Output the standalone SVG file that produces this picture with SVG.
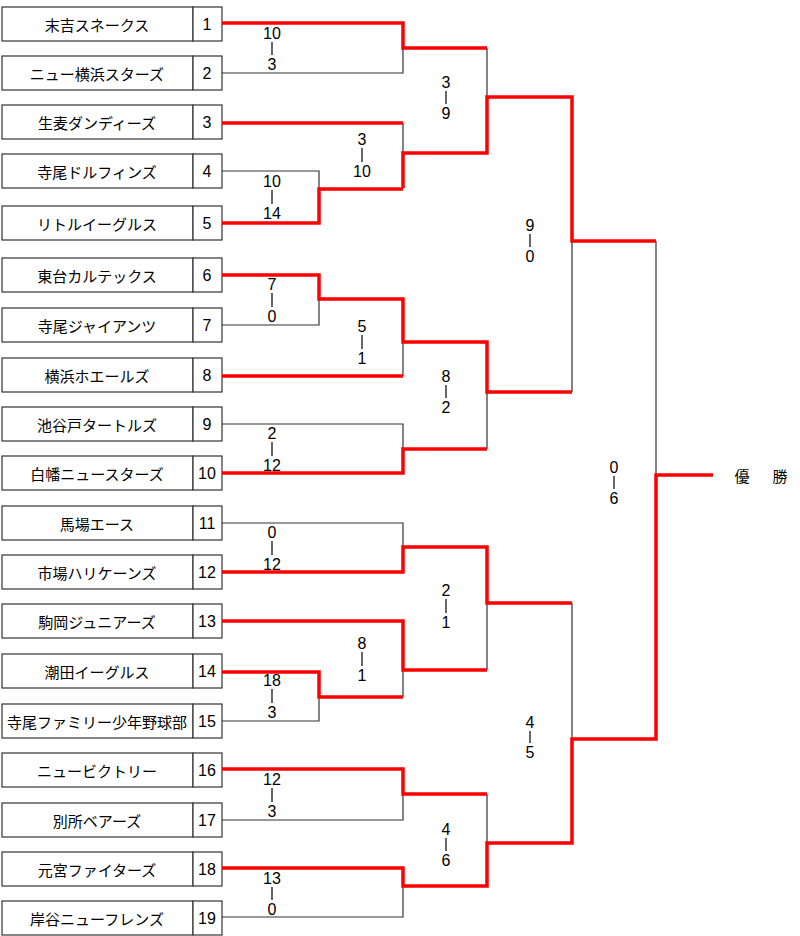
<svg xmlns="http://www.w3.org/2000/svg" width="800" height="936" viewBox="0 0 800 936">
<style>
.b{fill:#fff;stroke:#333;stroke-width:1.2}
.t{font-family:"Noto Sans CJK JP","Liberation Sans",sans-serif;font-size:15px;text-anchor:middle;dominant-baseline:central;fill:#000}
.n{font-family:"Liberation Sans",sans-serif;font-size:16px;text-anchor:middle;dominant-baseline:central;fill:#000}
.k{fill:none;stroke:#333;stroke-width:1.2}
.r{fill:none;stroke:#f00;stroke-width:3.5}
.d{stroke:#000;stroke-width:1.2}
</style>
<rect width="800" height="936" fill="#fff"/>
<g id="teams">
<g id="t1"><rect class="b" x="2" y="7" width="191" height="34"/><rect class="b" x="193" y="7" width="29" height="34"/><text class="t" x="97" y="24">末吉スネークス</text><text class="n" x="207" y="24">1</text></g>
<g id="t2"><rect class="b" x="2" y="56" width="191" height="34"/><rect class="b" x="193" y="56" width="29" height="34"/><text class="t" x="97" y="73">ニュー横浜スターズ</text><text class="n" x="207" y="73">2</text></g>
<g id="t3"><rect class="b" x="2" y="105" width="191" height="34"/><rect class="b" x="193" y="105" width="29" height="34"/><text class="t" x="97" y="122">生麦ダンディーズ</text><text class="n" x="207" y="122">3</text></g>
<g id="t4"><rect class="b" x="2" y="154" width="191" height="34"/><rect class="b" x="193" y="154" width="29" height="34"/><text class="t" x="97" y="171">寺尾ドルフィンズ</text><text class="n" x="207" y="171">4</text></g>
<g id="t5"><rect class="b" x="2" y="206" width="191" height="34"/><rect class="b" x="193" y="206" width="29" height="34"/><text class="t" x="97" y="223">リトルイーグルス</text><text class="n" x="207" y="223">5</text></g>
<g id="t6"><rect class="b" x="2" y="258" width="191" height="34"/><rect class="b" x="193" y="258" width="29" height="34"/><text class="t" x="97" y="275">東台カルテックス</text><text class="n" x="207" y="275">6</text></g>
<g id="t7"><rect class="b" x="2" y="308" width="191" height="34"/><rect class="b" x="193" y="308" width="29" height="34"/><text class="t" x="97" y="325">寺尾ジャイアンツ</text><text class="n" x="207" y="325">7</text></g>
<g id="t8"><rect class="b" x="2" y="358" width="191" height="34"/><rect class="b" x="193" y="358" width="29" height="34"/><text class="t" x="97" y="375">横浜ホエールズ</text><text class="n" x="207" y="375">8</text></g>
<g id="t9"><rect class="b" x="2" y="407" width="191" height="34"/><rect class="b" x="193" y="407" width="29" height="34"/><text class="t" x="97" y="424">池谷戸タートルズ</text><text class="n" x="207" y="424">9</text></g>
<g id="t10"><rect class="b" x="2" y="456" width="191" height="34"/><rect class="b" x="193" y="456" width="29" height="34"/><text class="t" x="97" y="473">白幡ニュースターズ</text><text class="n" x="207" y="473">10</text></g>
<g id="t11"><rect class="b" x="2" y="506" width="191" height="34"/><rect class="b" x="193" y="506" width="29" height="34"/><text class="t" x="97" y="523">馬場エース</text><text class="n" x="207" y="523">11</text></g>
<g id="t12"><rect class="b" x="2" y="555" width="191" height="34"/><rect class="b" x="193" y="555" width="29" height="34"/><text class="t" x="97" y="572">市場ハリケーンズ</text><text class="n" x="207" y="572">12</text></g>
<g id="t13"><rect class="b" x="2" y="604" width="191" height="34"/><rect class="b" x="193" y="604" width="29" height="34"/><text class="t" x="97" y="621">駒岡ジュニアーズ</text><text class="n" x="207" y="621">13</text></g>
<g id="t14"><rect class="b" x="2" y="654" width="191" height="34"/><rect class="b" x="193" y="654" width="29" height="34"/><text class="t" x="97" y="671">潮田イーグルス</text><text class="n" x="207" y="671">14</text></g>
<g id="t15"><rect class="b" x="2" y="704" width="191" height="34"/><rect class="b" x="193" y="704" width="29" height="34"/><text class="t" x="97" y="721">寺尾ファミリー少年野球部</text><text class="n" x="207" y="721">15</text></g>
<g id="t16"><rect class="b" x="2" y="753" width="191" height="34"/><rect class="b" x="193" y="753" width="29" height="34"/><text class="t" x="97" y="770">ニュービクトリー</text><text class="n" x="207" y="770">16</text></g>
<g id="t17"><rect class="b" x="2" y="803" width="191" height="34"/><rect class="b" x="193" y="803" width="29" height="34"/><text class="t" x="97" y="820">別所ベアーズ</text><text class="n" x="207" y="820">17</text></g>
<g id="t18"><rect class="b" x="2" y="852" width="191" height="34"/><rect class="b" x="193" y="852" width="29" height="34"/><text class="t" x="97" y="869">元宮ファイターズ</text><text class="n" x="207" y="869">18</text></g>
<g id="t19"><rect class="b" x="2" y="901" width="191" height="34"/><rect class="b" x="193" y="901" width="29" height="34"/><text class="t" x="97" y="918">岸谷ニューフレンズ</text><text class="n" x="207" y="918">19</text></g>
</g>
<g id="connectors">
<path class="k" d="M222 73H403V48 M222 171H319V189 M403 123V188 M487 48V153 M222 325H319V299 M403 299V376 M222 424H403V449 M487 342V449 M572 97V392 M222 523H403V547 M487 547V670 M222 721H319V697 M403 670V697 M487 603V670 M222 820H403V794 M487 794V886 M222 917H403V886 M572 603V843 M656 241V739"/>
<path class="r" d="M222 23H403V48H487 M222 123H403 M222 223H319V189H403 M403 188V153H487V97H572V241H656 M222 275H319V299H403V342H487V392H572 M222 376H403 M222 473H403V449H487 M222 572H403V547H487V603H572 M222 621H403V670H487 M222 672H319V697H403 M222 769H403V794H487 M222 868H403V886H487V843H572V739H656V475H713"/>
</g>
<g id="scores">
<text class="n" x="272" y="33">10</text><line class="d" x1="272" y1="42" x2="272" y2="55"/><text class="n" x="272" y="64">3</text>
<text class="n" x="272" y="181">10</text><line class="d" x1="272" y1="190" x2="272" y2="204"/><text class="n" x="272" y="213">14</text>
<text class="n" x="362" y="139">3</text><line class="d" x1="362" y1="148" x2="362" y2="162"/><text class="n" x="362" y="171">10</text>
<text class="n" x="446" y="82">3</text><line class="d" x1="446" y1="91" x2="446" y2="104"/><text class="n" x="446" y="113">9</text>
<text class="n" x="530" y="225">9</text><line class="d" x1="530" y1="234" x2="530" y2="247"/><text class="n" x="530" y="256">0</text>
<text class="n" x="272" y="284">7</text><line class="d" x1="272" y1="293" x2="272" y2="307"/><text class="n" x="272" y="316">0</text>
<text class="n" x="362" y="326">5</text><line class="d" x1="362" y1="335" x2="362" y2="349"/><text class="n" x="362" y="358">1</text>
<text class="n" x="446" y="376">8</text><line class="d" x1="446" y1="385" x2="446" y2="398"/><text class="n" x="446" y="407">2</text>
<text class="n" x="272" y="433">2</text><line class="d" x1="272" y1="442" x2="272" y2="456"/><text class="n" x="272" y="465">12</text>
<text class="n" x="272" y="532">0</text><line class="d" x1="272" y1="541" x2="272" y2="555"/><text class="n" x="272" y="564">12</text>
<text class="n" x="446" y="590">2</text><line class="d" x1="446" y1="599" x2="446" y2="613"/><text class="n" x="446" y="622">1</text>
<text class="n" x="362" y="643">8</text><line class="d" x1="362" y1="652" x2="362" y2="666"/><text class="n" x="362" y="675">1</text>
<text class="n" x="272" y="680">18</text><line class="d" x1="272" y1="689" x2="272" y2="703"/><text class="n" x="272" y="712">3</text>
<text class="n" x="530" y="722">4</text><line class="d" x1="530" y1="731" x2="530" y2="743"/><text class="n" x="530" y="752">5</text>
<text class="n" x="272" y="779">12</text><line class="d" x1="272" y1="788" x2="272" y2="802"/><text class="n" x="272" y="811">3</text>
<text class="n" x="446" y="829">4</text><line class="d" x1="446" y1="838" x2="446" y2="851"/><text class="n" x="446" y="860">6</text>
<text class="n" x="272" y="878">13</text><line class="d" x1="272" y1="887" x2="272" y2="900"/><text class="n" x="272" y="909">0</text>
<text class="n" x="614" y="467">0</text><line class="d" x1="614" y1="476" x2="614" y2="489"/><text class="n" x="614" y="498">6</text>
</g>
<g id="champion"><text class="t" x="742" y="475" font-size="16">優</text><text class="t" x="780" y="475" font-size="16">勝</text></g>
</svg>
